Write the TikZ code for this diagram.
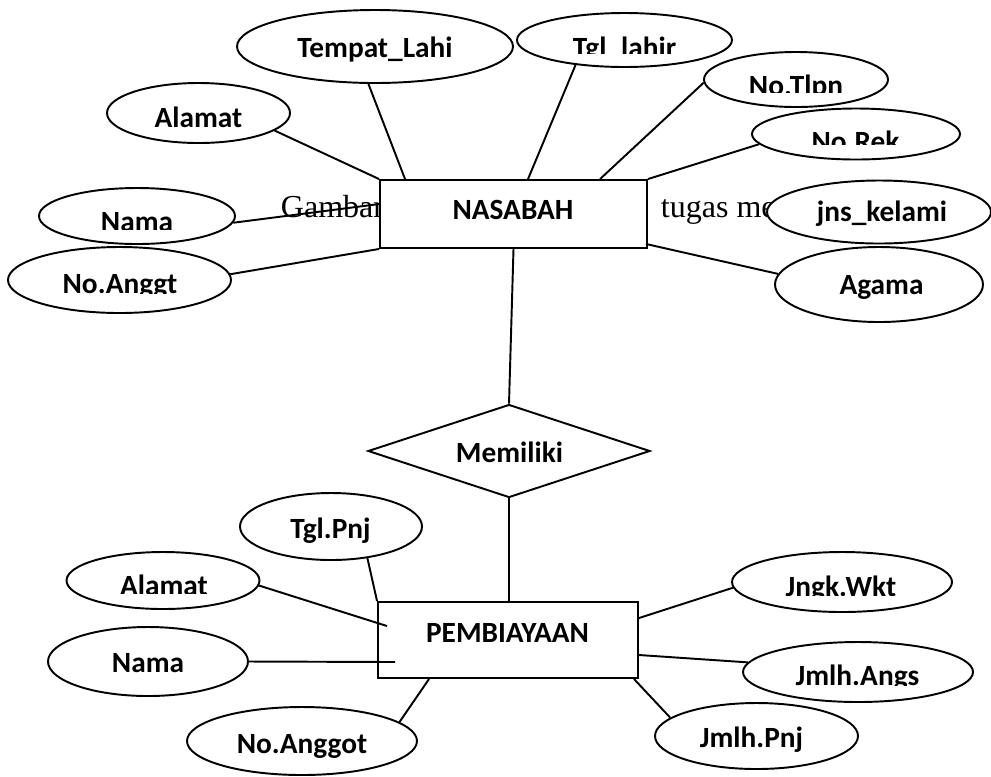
\documentclass[tikz,border=0pt]{standalone}
\usepackage{fontspec}
\setmainfont{Carlito}
\newfontfamily\serifTNR{Liberation Serif}
\usetikzlibrary{shapes.geometric,calc}
\tikzset{
  attr/.style 2 args={ellipse, draw, fill=white, inner sep=0pt,
    minimum width={#1*1.5pt}, minimum height={#2*1.5pt}},
  entity/.style 2 args={rectangle, draw, fill=white, inner sep=0pt,
    minimum width={#1*0.75pt}, minimum height={#2*0.75pt}},
  rel/.style 2 args={diamond, draw, fill=white, inner sep=0pt,
    minimum width={#1*1.5pt}, minimum height={#2*1.5pt}},
  lbl/.style={font=\fontsize{22pt}{26pt}\selectfont\bfseries, inner sep=0pt, anchor=base},
  bgtext/.style={font=\serifTNR\fontsize{24pt}{28pt}\selectfont, inner sep=0pt, anchor=base west}
}
\newcommand\cliplabel[5]{%
  \begin{scope}
    \clip (#2-120,#3-40) rectangle (#2+120,#4);
    \node[lbl] (#1) at (#2,#3) {#5};
  \end{scope}}
\begin{document}
\begin{tikzpicture}[x=0.75pt,y=-0.75pt,line width=1.45pt]
\useasboundingbox (0,0) rectangle (991,776);
% background text
\node[bgtext] (gambar) at (280,217) {Gambar};
\node[bgtext] (tugas) at (660,217) {tugas me};
% shapes
\node[entity={267}{68}] (nasabah) at (513.5,214) {};
\node[attr={138}{36.5}] (tempat) at (375,46.5) {};
\node[attr={107.5}{27}] (tgl) at (624.5,40) {};
\node[attr={91.5}{30}] (alamat1) at (198.5,113) {};
\node[attr={92}{27.5}] (tlpn) at (796,79.5) {};
\node[attr={104}{25.5}] (rek) at (856,134) {};
\node[attr={98}{28}] (nama1) at (137,216) {};
\node[attr={112}{31.5}] (jk) at (879,212) {};
\node[attr={111.5}{33}] (anggt) at (119.5,280) {};
\node[attr={104}{37.5}] (agama) at (879,284.5) {};
\node[rel={141}{46.5}] (memiliki) at (509,451) {};
\node[entity={260}{76}] (pemb) at (508,640) {};
\node[attr={91}{33.5}] (tglpnj) at (331,526.5) {};
\node[attr={96.5}{28.5}] (alamat2) at (163,580.5) {};
\node[attr={100}{34.5}] (nama2) at (148,661.5) {};
\node[attr={115}{34}] (anggot) at (302,741) {};
\node[attr={110}{30}] (wkt) at (842,582) {};
\node[attr={115}{30}] (angs) at (858,672) {};
\node[attr={101.5}{33}] (pnj) at (756.5,736) {};
% connectors
\draw (alamat1.-13.8) -- (nasabah.north west);
\draw (tempat.-100.9) -- ($(nasabah.north west)+(26,0)$);
\draw (tgl.-153.7) -- ($(nasabah.north west)+(149,0)$);
\draw (tlpn.-178) -- ($(nasabah.north west)+(221,0)$);
\draw (rek.-174.8) -- (nasabah.north east);
\draw (nama1.-4.2) -- ($(nasabah.north west)+(0,25)$);
\draw (anggt.3.1) -- (nasabah.south west);
\draw (agama.174.7) -- ($(nasabah.south east)+(-2,-5)$);
\draw (nasabah.south) -- (memiliki.north);
\draw (memiliki.south) -- (memiliki.south |- pemb.north);
\draw (tglpnj.-41.1) -- (pemb.north west);
\draw (alamat2.-3.8) -- ($(pemb.north west)+(10,25)$);
\draw (nama2.east) -- ($(pemb.west)+(18,22)$);
\draw (anggot.11.2) -- ($(pemb.south west)+(52,0)$);
\draw (wkt.-177) -- ($(pemb.north east)+(0,17)$);
\draw (angs.175) -- ($(pemb.east)+(0,15)$);
\draw (pnj.168.2) -- ($(pemb.south east)+(-5,0)$);
% labels
\node[lbl] (l-tempat) at (375,57) {Tempat\_Lahi};
\node[lbl] (l-alamat1) at (198.5,127) {Alamat};
\cliplabel{l-nama1}{137}{231.5}{229}{Nama}
\cliplabel{l-anggt}{120}{293.5}{293}{No.Anggt}
\node[lbl] (l-nasabah) at (513,219) {NASABAH};
\cliplabel{l-tgl}{624.5}{57.5}{53}{Tgl\_lahir}
\cliplabel{l-tlpn}{796}{95.5}{92}{No.Tlpn}
\cliplabel{l-rek}{855.5}{151.5}{144}{No.Rek}
\node[lbl] (l-jk) at (882,221) {jns\_kelami};
\node[lbl] (l-agama) at (881.5,294) {Agama};
\node[lbl] (l-memiliki) at (509.5,462) {Memiliki};
\node[lbl] (l-tglpnj) at (330.5,538) {Tgl.Pnj};
\cliplabel{l-alamat2}{164}{595.5}{593}{Alamat}
\node[lbl] (l-nama2) at (148,672) {Nama};
\node[lbl] (l-pemb) at (507.5,642) {PEMBIAYAAN};
\node[lbl] (l-anggot) at (302,753) {No.Anggot};
\cliplabel{l-wkt}{841}{596.5}{595}{Jngk.Wkt}
\cliplabel{l-angs}{857.5}{685.5}{685}{Jmlh.Angs}
\node[lbl] (l-pnj) at (751.5,747) {Jmlh.Pnj};
\end{tikzpicture}
\end{document}
